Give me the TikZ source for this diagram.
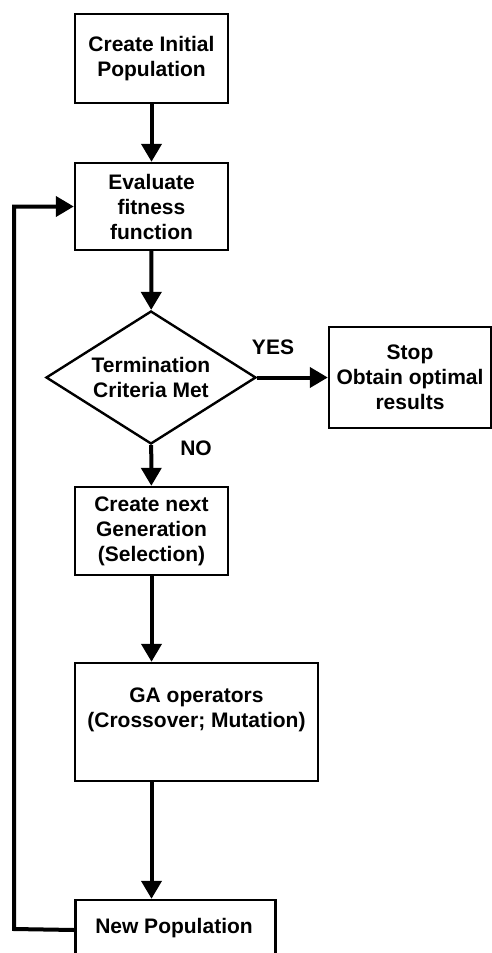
\documentclass[tikz,border=0pt]{standalone}
\usepackage{fontspec}
\setmainfont{Liberation Sans}
\usetikzlibrary{shapes.geometric,arrows.meta}
\begin{document}
\begin{tikzpicture}[x=1pt,y=-1pt,
  box/.style={draw=black,line width=2.4pt,inner sep=0pt,align=center,
    font=\fontsize{21}{25}\selectfont\bfseries},
  lbl/.style={inner sep=0pt,align=center,font=\fontsize{21}{25}\selectfont\bfseries},
  flow/.style={line width=4pt,-{Triangle[length=18pt,width=20pt]}},
  plain/.style={line width=4pt}]
\useasboundingbox (0,0) rectangle (492,953);
\node[box,minimum width=153pt,minimum height=89pt] (init) at (151.5,58.5) {Create Initial\\Population};
\node[box,minimum width=153pt,minimum height=87pt] (eval) at (151.5,206.5) {Evaluate\\fitness\\function};
\node[draw=black,line width=2.4pt,shape=diamond,minimum width=210pt,minimum height=133pt,inner sep=0pt] (dec) at (151,377.5) {};
\node[lbl] (dectext) at (151,377.5) {Termination\\Criteria Met};
\node[box,minimum width=162pt,minimum height=101pt] (stop) at (410,377.5) {Stop\\Obtain optimal\\results};
\node[box,minimum width=153pt,minimum height=88pt] (sel) at (151.5,531) {Create next\\Generation\\(Selection)};
\node[draw=black,line width=2.4pt,minimum width=243pt,minimum height=118pt,inner sep=0pt] (ga) at (196.5,722) {};
\node[lbl] (gatext) at (196.5,709.5) {GA operators\\(Crossover; Mutation)};
\node[box,minimum width=200pt,minimum height=60pt] (np) at (175.5,930) {};
\node[lbl] (nptext) at (174,928) {New Population};
\node[lbl] (yes) at (273,347) {YES};
\node[lbl] (no) at (196,448) {NO};
\coordinate (loopx) at (14,929);
\draw[flow] (init) -- (eval);
\draw[flow] (eval) -- (dec);
\draw[flow] (dec) -- (stop);
\draw[flow] (dec) -- (sel);
\draw[flow] (sel) -- (sel |- ga.north);
\draw[flow] (ga.south -| sel) -- (sel |- np.north);
\draw[flow] (np.west) -- (loopx) |- (eval.west);
\end{tikzpicture}
\end{document}
